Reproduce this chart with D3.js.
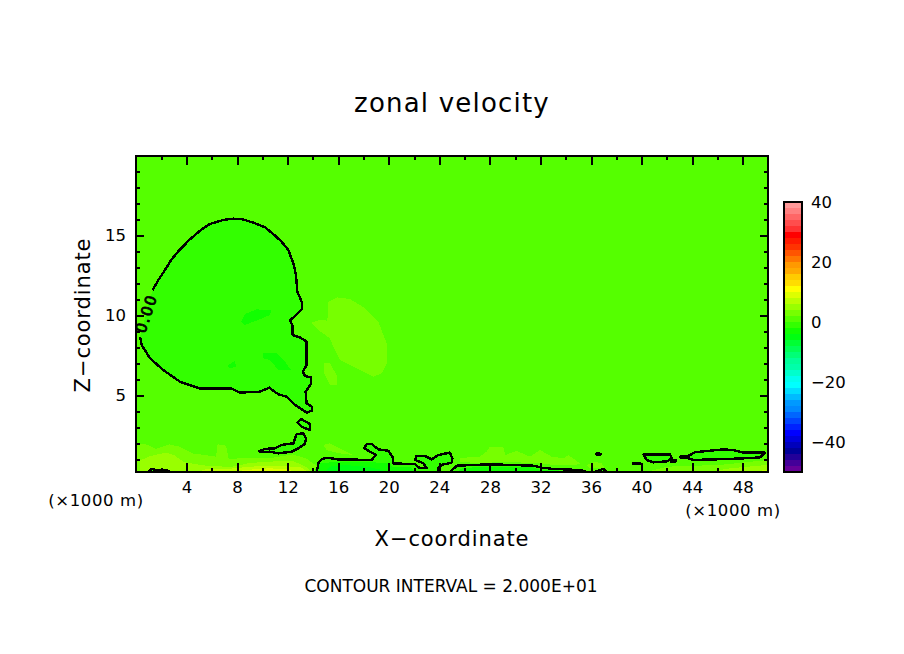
<!DOCTYPE html>
<html>
<head>
<meta charset="utf-8">
<script src="https://cdn.jsdelivr.net/npm/d3@7"></script>
<style>
  html, body { margin: 0; padding: 0; background: #fff; }
  svg { display: block; }
  text { font-family: "DejaVu Sans", sans-serif; fill: #000; }
  .line { fill: none; stroke: #000; stroke-width: 2.4; shape-rendering: crispEdges; stroke-linejoin: round; }
  .band { stroke: none; shape-rendering: crispEdges; }
  .tick line { stroke: #000; stroke-width: 2; shape-rendering: crispEdges; }
</style>
</head>
<body>
<svg id="d" width="904" height="654"></svg>
<script>
// palette, top of the colour bar to the bottom, one colour per 2 m/s
const paletteColors = ['#ff9999','#ff8080','#ff6666','#ff4d4d','#ff3333','#ff0000','#ff1a00','#ff3300','#ff5500','#ff7700','#ff9900','#ffaa00','#ffcc00','#ffdd00','#ffff00','#ddff00','#bbff00','#99ff00','#77ff00','#55ff00','#33ff00','#11ff00','#00ff11','#00ff33','#00ff55','#00ff77','#00ff99','#00ffaa','#00ffcc','#00ffee','#00ffff','#00ddff','#00bbff','#0099ff','#0088ff','#0066ff','#0044ff','#0022ff','#0000ff','#0000dd','#0000bb','#000099','#220099','#440099','#660099'];
const colorTicks = [-40, -20, 0, 20, 40];
const xMajorTicks = [4, 8, 12, 16, 20, 24, 28, 32, 36, 40, 44, 48];
const xMinorTicks = [2, 6, 10, 14, 18, 22, 26, 30, 34, 38, 42, 46];
const zMajorTicks = [5, 10, 15];
const zMinorTicks = [1, 2, 3, 4, 6, 7, 8, 9, 11, 12, 13, 14, 16, 17, 18, 19];

// zero contours, [x km, z km]
const mainContour = [[1.32,11.56],[1.77,12.19],[2.29,12.81],[2.82,13.48],[3.48,14.1],[4.27,14.73],[5.06,15.27],[5.85,15.69],[6.91,15.94],[7.7,16.02],[8.36,16],[9.28,15.77],[10.21,15.48],[10.86,15.06],[11.52,14.58],[12.05,14.06],[12.45,13.23],[12.66,12.5],[12.76,11.46],[13.11,10.83],[13.13,10.38],[12.45,9.85],[12.18,9.65],[12.37,9.38],[12.39,8.75],[12.97,8.6],[13.5,8.35],[13.5,6.88],[13.19,6.46],[13.37,6.19],[13.84,6.1],[13.84,5.69],[13.42,5.21],[13.5,4.48],[13.92,4.27],[13.9,4.02],[13.5,3.9],[13.19,4.06],[12.58,4.38],[11.92,4.9],[11.26,5.04],[10.55,5.46],[9.81,5.21],[8.23,5.15],[7.57,5.4],[5.06,5.4],[3.48,5.83],[2.16,6.56],[1.11,7.29],[0.45,8.13],[0.32,8.65]];
const loopD = [[12.79,3.27],[13.05,3.5],[13.76,3.19],[13.76,2.81],[13.11,3.02]];
const loopTail = [[9.76,1.5],[10.21,1.63],[11,1.67],[11.52,1.88],[12.45,1.98],[12.71,2.56],[13.24,2.6],[13.45,2.29],[13.37,1.94],[12.84,1.67],[12.32,1.46],[11.26,1.35],[10.6,1.46],[9.81,1.42]];
const bottomLeft = [[0.98,0.19],[1.24,0.38],[1.77,0.27],[2.43,0.31],[2.74,0.19]];
const bottomMiddle = [[14.29,0.17],[14.43,0.73],[14.69,1],[15.22,1.08],[15.88,0.98],[18.64,0.94],[18.99,1.25],[18.51,1.46],[18.06,1.67],[18.25,1.94],[18.64,1.94],[19.17,1.6],[19.96,1.52],[20.31,1.1],[20.31,0.73],[22.07,0.67],[22.47,0.42],[23,0.42],[22.73,0.73],[22.07,0.94],[22.2,1.19],[22.86,1.19],[23.39,0.98],[23.92,1.25],[24.84,1.4],[25.03,1.04],[24.97,0.77],[24.18,0.63],[23.92,0.42],[23.92,0.17]];
const bottomRight = [[24.84,0.19],[25.24,0.48],[25.37,0.58],[28,0.67],[29.6,0.63],[31.44,0.58],[32.09,0.46],[33.02,0.38],[35.13,0.31],[35.79,0.17]];
const bottomSmall = [[36.18,0.17],[36.58,0.27],[36.97,0.38],[37.24,0.17]];
const dotA = [[36.37,1.31],[36.58,1.38],[36.79,1.31],[36.58,1.23]];
const dotB = [[39.33,0.73],[39.86,0.75],[39.86,0.67],[39.33,0.67]];
const dotC = [[42.3,0.92],[42.72,0.92],[42.72,0.85],[42.3,0.85]];
const loopF = [[40.14,1.29],[42.25,1.29],[42.38,1.04],[42,0.85],[40.93,0.79],[40.4,0.94]];
const loopG = [[43.04,1.15],[43.7,1.19],[44.22,1.42],[45.41,1.52],[46.47,1.6],[47.26,1.56],[48.05,1.4],[49.76,1.4],[49.37,1.1],[48.05,1.04],[45.94,0.98],[44.09,0.94],[43.7,1.04],[43.09,1.08]];

// shaded areas that are not bounded by a drawn contour
const upperLobe = [[13.9,9.52],[14.56,9.69],[15.14,9.65],[15.22,10.83],[15.88,11.1],[16.93,11],[18.12,10.42],[19.17,9.58],[19.83,8.23],[19.83,6.98],[19.44,6.35],[18.78,6.15],[17.46,6.67],[16.14,7.19],[15.61,8.02],[15.35,8.54],[14.42,9.06]];
const lowerLobe = [[14.87,6.98],[15.35,6.98],[15.93,6.15],[15.93,5.63],[15.35,5.63],[14.87,6.35]];
const surfaceLeft3 = [[0,1.92],[0.79,1.92],[1.58,1.63],[2.64,1.92],[3.43,1.77],[4.48,1.35],[6.33,1.15],[6.46,1.92],[7.12,1.83],[7.33,1],[8.97,1.08],[10.55,1.04],[12.39,1.29],[13.45,1.04],[14.37,0.52],[14.24,0.1],[0,0.1]];
const surfaceLeft5 = [[0.3,0.9],[1.2,1.2],[2.4,1.4],[3,1.25],[3.8,0.8],[5.3,0.6],[7.5,0.5],[9,0.75],[11,0.85],[12.5,0.85],[13.5,0.5],[14,0.1],[0.3,0.1]];
const surfaceLeft7 = [[4.5,0.1],[5.5,0.35],[7.5,0.4],[9,0.52],[11,0.58],[13,0.5],[13.8,0.1]];
const surfaceLeft9 = [[7.5,0.1],[8.5,0.3],[10.5,0.42],[12,0.35],[13,0.1]];
const patchMidA = [[14.82,1.88],[15.35,1.98],[16.4,1.56],[17.2,1.25],[16.14,1.35],[15.08,1.56]];
const patchMidB = [[25.63,1.04],[26.5,1.12],[27.2,1.15],[27.74,1.46],[28,1.77],[29.06,1.77],[29.2,1.25],[30.12,1.5],[31.17,1.15],[31.96,1.56],[32.88,1.15],[33.8,1.04],[34.2,1.25],[35.12,0.73],[34.86,0.63],[33,0.63],[31.96,0.73],[29.06,0.83],[27.2,0.73],[25.63,0.83]];
const patchMidC = [[35.65,0.63],[36.31,0.83],[36.84,0.73],[37.1,0.42],[35.93,0.42]];
const surfaceRight3 = [[39.9,0.1],[42,0.52],[46.2,0.63],[50,0.94],[50,0.1]];
const surfaceRight5 = [[44.6,0.1],[47,0.42],[50,0.63],[50,0.1]];
const surfaceRight7 = [[48.3,0.1],[50,0.35],[50,0.1]];
const coreA = [[8.31,9.58],[8.62,10.06],[9.55,10.35],[10.73,10.31],[10.6,10],[9.68,9.69],[8.62,9.38]];
const coreB = [[10.02,7.6],[11.13,7.6],[11.79,7.08],[12.26,6.56],[11.26,6.56],[10.6,7.19],[10.07,7.29]];
const coreC = [[7.23,6.83],[7.83,7.13],[7.91,6.77],[7.44,6.67]];
const jetMiddle3 = [[14.03,0.1],[14.43,0.73],[16.14,0.83],[18.78,0.79],[20.1,0.73],[20.23,0.52],[21.68,0.52],[22.2,0.1]];
const jetMiddle5 = [[14.82,0.1],[15.35,0.52],[16.4,0.63],[18.25,0.52],[19.5,0.31],[19.83,0.1]];
const jetRight3 = [[25.3,0.1],[25.7,0.4],[27.2,0.52],[29.06,0.48],[31.43,0.48],[31.96,0.31],[35.12,0.25],[35.12,0.1]];

const svg = d3.select('#d');

const plot = { left: 136, right: 768, top: 156, bottom: 472 };
const bar = { left: 784, right: 802, top: 202, bottom: 472 };
const tickFont = 16.5;

const xScale = d3.scaleLinear().domain([0, 50]).range([plot.left, plot.right]);
const zScale = d3.scaleLinear().domain([0.1875, 19.9375]).range([plot.bottom, plot.top]);
const barScale = d3.scaleLinear().domain([-50, 40]).range([bar.bottom, bar.top]);
const colorOf = d3.scaleQuantize().domain([-50, 40]).range(paletteColors.slice().reverse());

const path = d3.line().x(d => xScale(d[0])).y(d => zScale(d[1]));
const closedPath = d3.line().x(d => xScale(d[0])).y(d => zScale(d[1])).curve(d3.curveLinearClosed);

svg.append('defs').append('clipPath').attr('id', 'plot-clip')
  .append('rect')
    .attr('x', plot.left).attr('y', plot.top)
    .attr('width', plot.right - plot.left).attr('height', plot.bottom - plot.top);

const g = svg.append('g').attr('clip-path', 'url(#plot-clip)');

// background band, then shaded areas from the lightest up
g.append('rect')
    .attr('x', plot.left).attr('y', plot.top)
    .attr('width', plot.right - plot.left).attr('height', plot.bottom - plot.top)
    .attr('fill', colorOf(1));

const shaded = [
  [upperLobe, 3], [lowerLobe, 3],
  [surfaceLeft3, 3], [surfaceLeft5, 5], [surfaceLeft7, 7], [surfaceLeft9, 9],
  [patchMidA, 3], [patchMidB, 3], [patchMidC, 3],
  [surfaceRight3, 3], [surfaceRight5, 5], [surfaceRight7, 7],
  [mainContour, -1], [loopD, -1], [loopTail, -1],
  [bottomLeft, -1], [bottomMiddle, -1], [bottomRight, -1], [bottomSmall, -1],
  [loopF, -1], [loopG, -1],
  [coreA, -3], [coreB, -3], [coreC, -3],
  [jetMiddle3, -3], [jetMiddle5, -5], [jetRight3, -3]
];
g.selectAll('path.band').data(shaded)
  .enter().append('path')
    .attr('class', 'band')
    .attr('d', d => closedPath(d[0]))
    .attr('fill', d => colorOf(d[1]));

const openLines = [mainContour, bottomLeft, bottomMiddle, bottomRight, bottomSmall];
const closedLines = [loopD, loopTail, dotA, dotB, dotC, loopF, loopG];
g.selectAll('path.open').data(openLines)
  .enter().append('path')
    .attr('class', 'line open')
    .attr('d', path);
g.selectAll('path.closed').data(closedLines)
  .enter().append('path')
    .attr('class', 'line closed')
    .attr('d', closedPath);

// contour label sitting in the gap of the main contour
g.append('text')
    .attr('transform', `translate(${xScale(0.8)},${zScale(10.1)}) rotate(-72)`)
    .attr('text-anchor', 'middle')
    .attr('dy', '0.36em')
    .attr('font-size', 15)
    .attr('letter-spacing', 1.6)
    .attr('stroke', '#000')
    .attr('stroke-width', 0.8)
    .text('0.00');

// ticks all point inwards, on all four sides
const tickAxis = (axis, scale, values, size) => axis(scale).tickValues(values).tickSize(-size).tickFormat('');
const sides = [
  [d3.axisBottom, xScale, xMajorTicks, 9, plot.bottom, 'x'],
  [d3.axisBottom, xScale, xMinorTicks, 4, plot.bottom, 'x'],
  [d3.axisTop, xScale, xMajorTicks, 9, plot.top, 'x'],
  [d3.axisTop, xScale, xMinorTicks, 4, plot.top, 'x'],
  [d3.axisLeft, zScale, zMajorTicks, 8, plot.left, 'z'],
  [d3.axisLeft, zScale, zMinorTicks, 4, plot.left, 'z'],
  [d3.axisRight, zScale, zMajorTicks, 8, plot.right, 'z'],
  [d3.axisRight, zScale, zMinorTicks, 4, plot.right, 'z']
];
sides.forEach(([axis, scale, values, size, at, kind]) => {
  const a = svg.append('g')
    .attr('transform', kind === 'x' ? `translate(0,${at})` : `translate(${at},0)`)
    .call(tickAxis(axis, scale, values, size));
  a.select('.domain').remove();
});

svg.append('rect')
    .attr('x', plot.left).attr('y', plot.top)
    .attr('width', plot.right - plot.left).attr('height', plot.bottom - plot.top)
    .attr('fill', 'none').attr('stroke', '#000').attr('stroke-width', 2)
    .attr('shape-rendering', 'crispEdges');

// tick labels
const xLabels = svg.append('g').attr('transform', `translate(0,${plot.bottom})`)
  .call(d3.axisBottom(xScale).tickValues(xMajorTicks).tickSize(0).tickPadding(9));
xLabels.select('.domain').remove();
xLabels.selectAll('text').attr('font-size', tickFont).style('font-family', '"DejaVu Sans", sans-serif');

const zLabels = svg.append('g').attr('transform', `translate(${plot.left},0)`)
  .call(d3.axisLeft(zScale).tickValues(zMajorTicks).tickSize(0).tickPadding(10));
zLabels.select('.domain').remove();
zLabels.selectAll('text').attr('font-size', tickFont).style('font-family', '"DejaVu Sans", sans-serif');

// colour bar
const barG = svg.append('g');
barG.selectAll('rect').data(paletteColors)
  .enter().append('rect')
    .attr('class', 'band')
    .attr('x', bar.left)
    .attr('width', bar.right - bar.left)
    .attr('y', (d, i) => barScale(40 - 2 * i))
    .attr('height', (d, i) => barScale(38 - 2 * i) - barScale(40 - 2 * i))
    .attr('fill', d => d);
svg.append('rect')
    .attr('x', bar.left).attr('y', bar.top)
    .attr('width', bar.right - bar.left).attr('height', bar.bottom - bar.top)
    .attr('fill', 'none').attr('stroke', '#000').attr('stroke-width', 2)
    .attr('shape-rendering', 'crispEdges');
const barAxis = svg.append('g').attr('transform', `translate(${bar.right},0)`)
  .call(d3.axisRight(barScale).tickValues(colorTicks).tickSize(0).tickPadding(9));
barAxis.select('.domain').remove();
barAxis.selectAll('text').attr('font-size', tickFont).style('font-family', '"DejaVu Sans", sans-serif');

// titles and notes
const label = (x, y, text, size, spacing) => svg.append('text')
    .attr('x', x).attr('y', y)
    .attr('text-anchor', 'middle')
    .attr('font-size', size)
    .attr('letter-spacing', spacing)
    .text(text);

label(452, 112, 'zonal velocity', 26, 1.2);
label(452, 546, 'X\u2212coordinate', 21, 0.9);
label(451, 592, 'CONTOUR INTERVAL = 2.000E+01', 17, 0);
label(96, 506, '(\u00d71000 m)', 16.5, 0.6);
label(733, 516, '(\u00d71000 m)', 16.5, 0.6);
svg.append('text')
    .attr('transform', 'translate(90,315) rotate(-90)')
    .attr('text-anchor', 'middle')
    .attr('font-size', 21)
    .attr('letter-spacing', 0.9)
    .text('Z\u2212coordinate');
</script>
</body>
</html>
